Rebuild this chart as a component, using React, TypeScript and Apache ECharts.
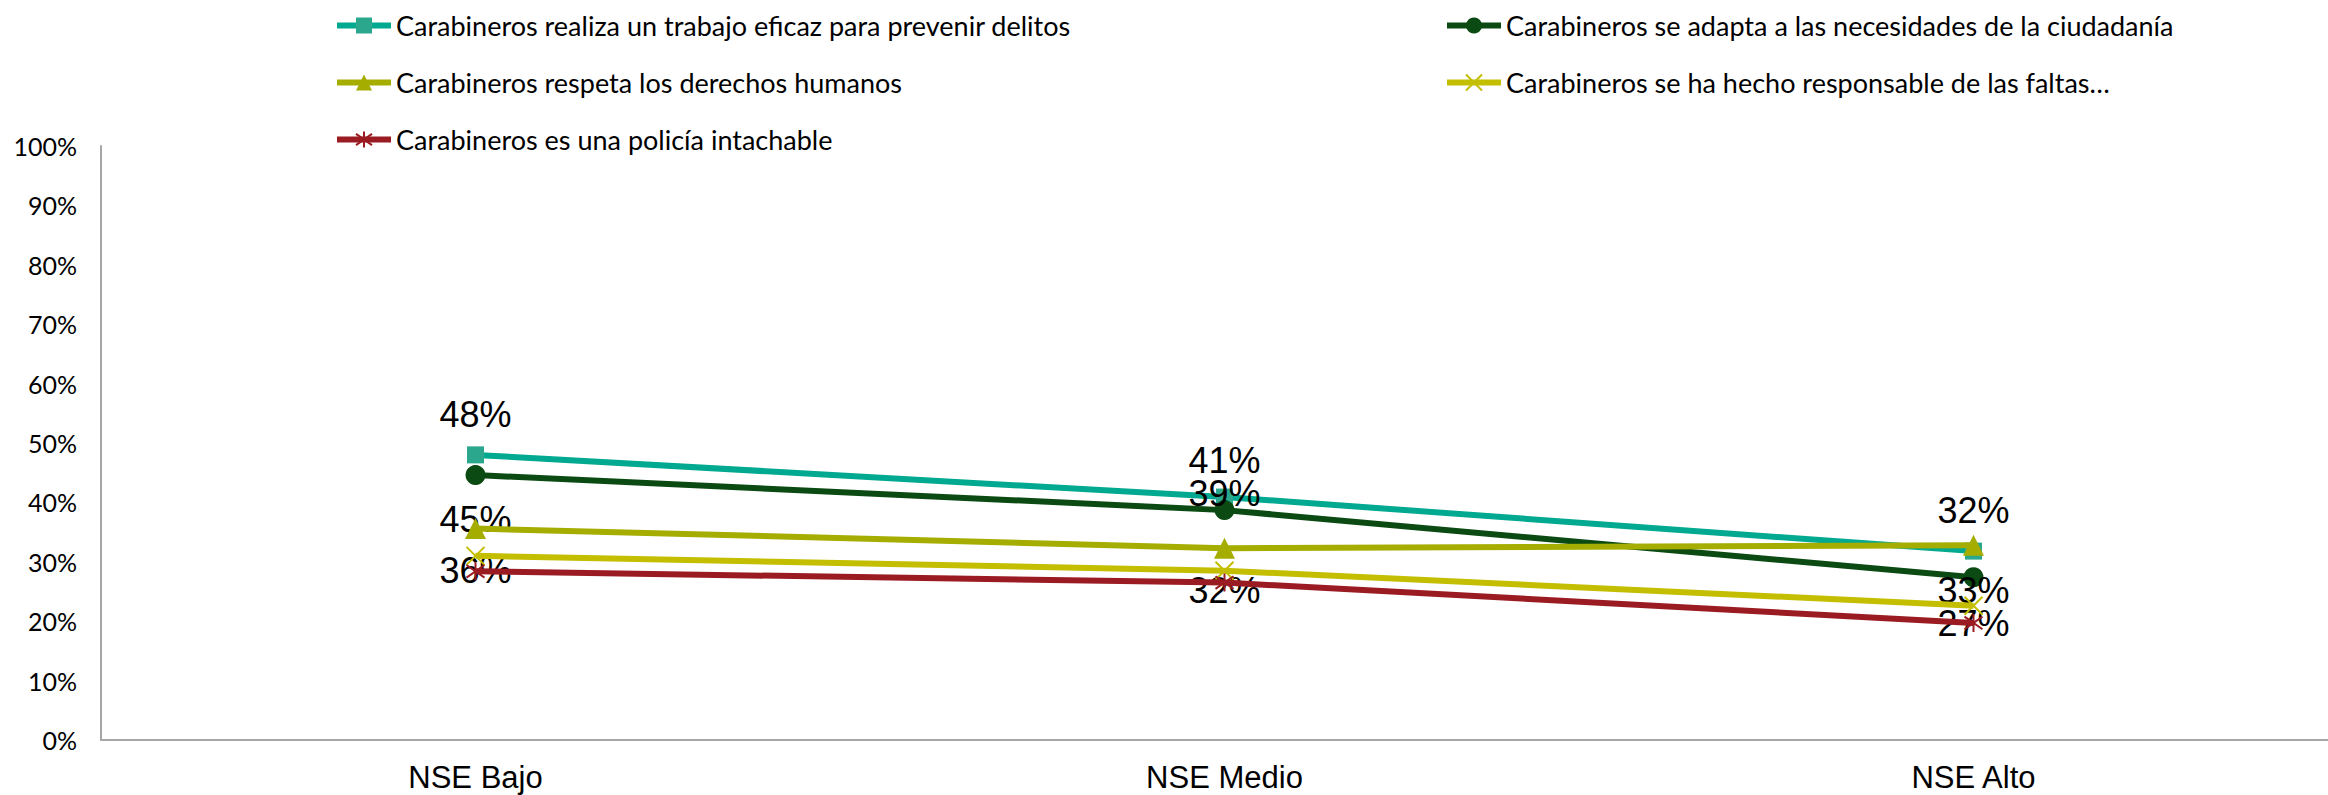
import React, { useEffect, useRef } from "react";
import * as echarts from "echarts";

const categories = ["NSE Bajo", "NSE Medio", "NSE Alto"];
const seriesNames = [
  "Carabineros realiza un trabajo eficaz para prevenir delitos",
  "Carabineros se adapta a las necesidades de la ciudadanía",
  "Carabineros respeta los derechos humanos",
  "Carabineros se ha hecho responsable de las faltas…",
  "Carabineros es una policía intachable",
];
const eficaz = [48, 40.9, 31.8];
const adapta = [44.6, 38.7, 27.4];
const derechos = [35.6, 32.3, 32.8];
const responsable = [31, 28.5, 22.6];
const intachable = [28.4, 26.5, 19.7];
const yMin = 0;
const yMax = 100;
const yStep = 10;

const X_PATH = "path://M0,0L10,10M10,0L0,10";
const STAR_PATH = "path://M5,0L5,10M0,1.5L10,8.5M10,1.5L0,8.5";

export default function App() {
  const ref = useRef<HTMLDivElement>(null);
  useEffect(() => {
    if (!ref.current) return;
    const chart = echarts.init(ref.current, null, { renderer: "svg" });
    const values = [eficaz, adapta, derechos, responsable, intachable];
    const lineColors = ["#00A98F", "#0B4A12", "#A5AD00", "#C4BE00", "#9B1B22"];
    const markerColors = ["#2AA78C", "#0B4A12", "#A5AD00", "transparent", "transparent"];
    const symbols = ["rect", "circle", "triangle", X_PATH, STAR_PATH];
    const symbolSizes = [17, 20, 21, 18, 18];
    const labelOffsets: (number[][] | null)[] = [
      [[0, -40], [0, -37], [0, -41]],
      [[0, 44], [0, -17], [0, 46]],
      [[0, 42], [0, 42], [0, 45]],
      null,
      null,
    ];
    const series = values.map((vals, i) => ({
      type: "line",
      name: seriesNames[i],
      symbol: symbols[i],
      symbolSize: symbolSizes[i],
      showAllSymbol: true,
      lineStyle: { color: lineColors[i], width: 6 },
      itemStyle: {
        color: markerColors[i],
        borderColor: i >= 3 ? lineColors[i] : markerColors[i],
        borderWidth: i >= 3 ? 2 : 0,
      },
      emphasis: { disabled: true },
      data: vals.map((v, j) => {
        const off = labelOffsets[i];
        return off
          ? { value: v, label: { show: true, offset: off[j] } }
          : { value: v };
      }),
      label: {
        show: false,
        position: "inside",
        formatter: (p: any) => Math.round(p.value) + "%",
        fontSize: 36,
        fontFamily: "'Liberation Sans', Arial, sans-serif",
        color: "#000",
      },
      z: 2 + i,
    }));
    const legendText = {
      fontFamily: "Lato, 'Noto Sans', sans-serif",
      fontSize: 27,
      color: "#000",
      lineHeight: 27,
    };
    const legendBase = {
      orient: "vertical",
      top: 12,
      padding: 0,
      itemWidth: 54,
      itemHeight: 20,
      itemGap: 30,
      textStyle: legendText,
      lineStyle: { width: 6 },
      selectedMode: false,
    };
    chart.setOption({
      animation: false,
      backgroundColor: "#fff",
      legend: [
        { ...legendBase, left: 334, data: [seriesNames[0], seriesNames[2], seriesNames[4]] },
        { ...legendBase, left: 1444, data: [seriesNames[1], seriesNames[3]] },
      ],
      grid: { left: 101, top: 146, height: 594, width: 2247, containLabel: false },
      xAxis: {
        type: "category",
        data: categories,
        boundaryGap: true,
        axisLine: { show: true, lineStyle: { color: "#A6A6A6", width: 2 } },
        axisTick: { show: false },
        axisLabel: {
          fontFamily: "'Liberation Sans', Arial, sans-serif",
          fontSize: 31,
          color: "#000",
          margin: 22,
        },
      },
      yAxis: {
        type: "value",
        min: yMin,
        max: yMax,
        interval: yStep,
        splitLine: { show: false },
        axisLine: { show: true, lineStyle: { color: "#A6A6A6", width: 2 } },
        axisTick: { show: false },
        axisLabel: {
          formatter: (v: number) => v + "%",
          fontFamily: "Lato, 'Noto Sans', sans-serif",
          fontSize: 25,
          color: "#000",
          margin: 24,
        },
      },
      series,
    });
    return () => chart.dispose();
  }, []);
  return (
    <div
      style={{ position: "fixed", left: 0, top: 0, width: 2328, height: 795, overflow: "hidden", background: "#fff" }}
    >
      <div ref={ref} style={{ width: 2400, height: 795 }} />
    </div>
  );
}
